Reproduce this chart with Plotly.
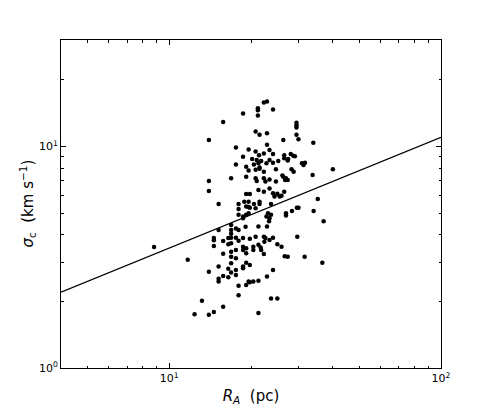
import plotly.graph_objects as go

# Scatter data: R_A (pc) and sigma_c (km/s)
R_A = [
    8.8, 11.7, 13.2, 12.4, 14.0, 14.6,
    14.0, 14.0, 14.0, 14.0,
    14.6, 14.6, 14.6,
    15.2, 15.2, 15.8, 15.8, 15.8, 15.8,
    16.9, 16.9, 17.6, 19.2,
    16.5, 16.9, 17.6, 18.7, 18.7, 19.2,
    16.9, 19.2, 15.2, 16.5, 17.6, 16.9, 17.6, 18.7,
    15.2, 15.2, 15.8, 16.5, 19.6, 19.2, 18.0, 18.0,
    16.9, 17.6, 18.0,
    16.5, 16.9, 17.6, 18.0,
    18.0, 18.0, 18.0, 18.7, 19.2, 19.6,
    18.7, 17.6, 19.6, 18.7, 17.6, 19.2, 19.6, 16.9, 19.2,
    19.2, 19.6, 18.7, 19.6,
    22.3, 22.9, 21.2, 21.2, 21.2, 24.1,
    20.8, 21.5, 22.9, 26.3, 22.9,
    20.8, 22.3, 23.4, 24.1, 21.4,
    20.2, 21.0, 21.8, 23.4, 24.1, 25.2, 26.5, 27.3,
    20.5, 21.3, 21.5, 22.8,
    20.8, 21.5, 22.3, 24.7,
    20.8, 21.0, 22.3, 22.6, 23.4, 24.7, 26.3, 26.7,
    21.3, 22.3, 23.4, 24.1, 25.0, 25.9, 26.5,
    19.2, 19.8,
    18.9, 20.5, 21.5, 21.5, 19.8, 20.8,
    23.7, 24.4, 25.5,
    23.1, 22.8, 23.4, 23.7, 23.3,
    26.9, 26.9,
    16.9, 19.1, 21.3, 22.9, 16.9,
    18.7, 19.8, 20.8, 22.3, 22.6, 23.4, 22.4, 24.1,
    20.4, 20.4, 21.3, 21.7, 21.8, 25.0, 25.9, 27.3,
    22.3, 19.8, 18.7,
    24.1, 22.9,
    19.8, 20.4, 21.3,
    23.7, 25.0, 21.3,
    29.4, 29.4, 29.4, 29.4, 29.9, 33.9,
    26.5, 27.4, 28.0, 28.6, 29.0,
    30.8, 31.2, 31.6,
    28.2, 28.7, 33.7, 40.0,
    26.1, 26.9, 27.3,
    35.2, 29.9, 29.5, 28.3,
    34.0, 37.0, 29.6, 31.5, 26.6, 36.6,
]
SIGMA_C = [
    3.52, 3.08, 2.01, 1.75, 1.74, 1.79,
    10.7, 7.0, 6.3, 2.72,
    3.86, 3.78, 3.56,
    5.50, 4.20, 1.89, 3.75, 12.9, 3.28,
    3.35, 3.18, 3.13, 3.30,
    3.62, 3.66, 3.41, 3.53, 3.41, 3.47,
    2.97, 2.99, 2.87, 2.81, 2.77, 2.70, 2.63, 2.82,
    2.53, 2.46, 2.60, 2.57, 2.46, 2.37, 2.35, 2.13,
    4.43, 4.27, 4.20,
    3.86, 4.04, 3.88, 3.76,
    5.50, 5.22, 4.92, 4.74, 4.92, 5.34,
    14.1, 9.9, 9.7, 9.0, 8.3, 8.1, 7.8, 7.2, 7.3,
    5.36, 5.64, 4.83, 5.0,
    15.8, 16.0, 14.9, 14.6, 13.8, 14.7,
    11.7, 11.3, 11.5, 10.7, 10.2,
    9.5, 9.3, 9.66, 9.25, 9.15,
    8.8, 8.7, 8.6, 8.7, 8.45, 8.6, 8.85, 8.65,
    8.3, 8.4, 8.05, 8.4,
    7.85, 7.95, 7.7, 7.9,
    7.2, 7.0, 7.2, 6.95, 7.1, 6.95, 7.3, 7.07,
    6.37, 6.25, 6.47, 6.16, 6.12, 6.0, 6.25,
    6.1, 6.1,
    5.64, 5.5, 5.64, 5.5, 5.3, 5.27,
    5.5, 5.95, 5.95,
    5.0, 4.83, 4.74, 4.92, 4.6,
    5.0, 4.88,
    4.2, 4.34, 4.36, 4.36, 3.88,
    3.86, 3.83, 3.92, 3.92, 3.86, 3.79, 3.72, 3.88,
    3.53, 3.41, 3.6, 3.5, 3.41, 3.62, 3.53, 3.18,
    3.27, 2.92, 2.87,
    2.77, 2.59,
    2.44, 2.46, 2.48,
    2.06, 2.06, 1.77,
    12.8, 12.5, 12.2, 11.3, 10.8, 10.4,
    9.15, 8.8, 9.25, 9.1, 9.05,
    8.4, 8.25, 8.45,
    7.9, 7.7, 7.45, 7.9,
    7.4, 7.2, 7.07,
    5.8, 5.3, 5.3, 5.12,
    5.12, 4.6, 3.92, 3.18, 3.2, 2.99,
]

# Fitted relation drawn as a straight line (end points)
LINE_R = [4.0, 100.0]
LINE_SIGMA = [2.2, 11.0]

X_TICKS = [10, 100]
X_TICK_TEXT = ["10<sup>1</sup>", "10<sup>2</sup>"]
X_MINOR = [4, 5, 6, 7, 8, 9, 20, 30, 40, 50, 60, 70, 80, 90]
Y_TICKS = [1, 10]
Y_TICK_TEXT = ["10<sup>0</sup>", "10<sup>1</sup>"]
Y_MINOR = [2, 3, 4, 5, 6, 7, 8, 9, 20, 30]

fig = go.Figure()
fig.add_trace(go.Scatter(
    x=R_A, y=SIGMA_C, mode="markers",
    marker=dict(color="black", size=4.5, line=dict(width=0)),
    showlegend=False, hoverinfo="skip"))
fig.add_trace(go.Scatter(
    x=LINE_R, y=LINE_SIGMA, mode="lines",
    line=dict(color="black", width=1.3),
    showlegend=False, hoverinfo="skip"))

axis_common = dict(
    type="log", showgrid=False, zeroline=False,
    showline=True, linecolor="black", linewidth=1, mirror="allticks",
    ticks="inside", ticklen=5, tickwidth=1, tickcolor="black",
    tickfont=dict(family="DejaVu Sans", size=11, color="black"),
)

fig.update_xaxes(
    **axis_common,
    range=[0.60206, 2.0],
    tickvals=X_TICKS, ticktext=X_TICK_TEXT,
    minor=dict(ticks="inside", ticklen=2.5, tickwidth=1, tickcolor="black",
               tickvals=X_MINOR, showgrid=False),
    title=dict(text="<i>R<sub>A</sub></i>  (pc)",
               font=dict(family="DejaVu Sans", size=15, color="black"),
               standoff=6),
)
fig.update_yaxes(
    **axis_common,
    range=[0.0, 1.4814],
    tickvals=Y_TICKS, ticktext=Y_TICK_TEXT,
    minor=dict(ticks="inside", ticklen=2.5, tickwidth=1, tickcolor="black",
               tickvals=Y_MINOR, showgrid=False),
)

# y-axis title as a rotated annotation, placed left of the tick labels
fig.add_annotation(
    text="<i>σ</i><sub>c</sub>  (km s<sup>−1</sup>)",
    xref="paper", yref="paper", x=-0.0905, y=0.5,
    xanchor="center", yanchor="middle", textangle=-90, showarrow=False,
    font=dict(family="DejaVu Sans", size=15, color="black"),
)

# The page has an 8px body margin, so the figure is made 8px smaller
fig.update_layout(
    width=483, height=401,
    margin=dict(l=53, r=50, t=32, b=41, autoexpand=False),
    paper_bgcolor="white", plot_bgcolor="white",
    font=dict(family="DejaVu Sans", color="black"),
)

fig.write_html("out.html")
